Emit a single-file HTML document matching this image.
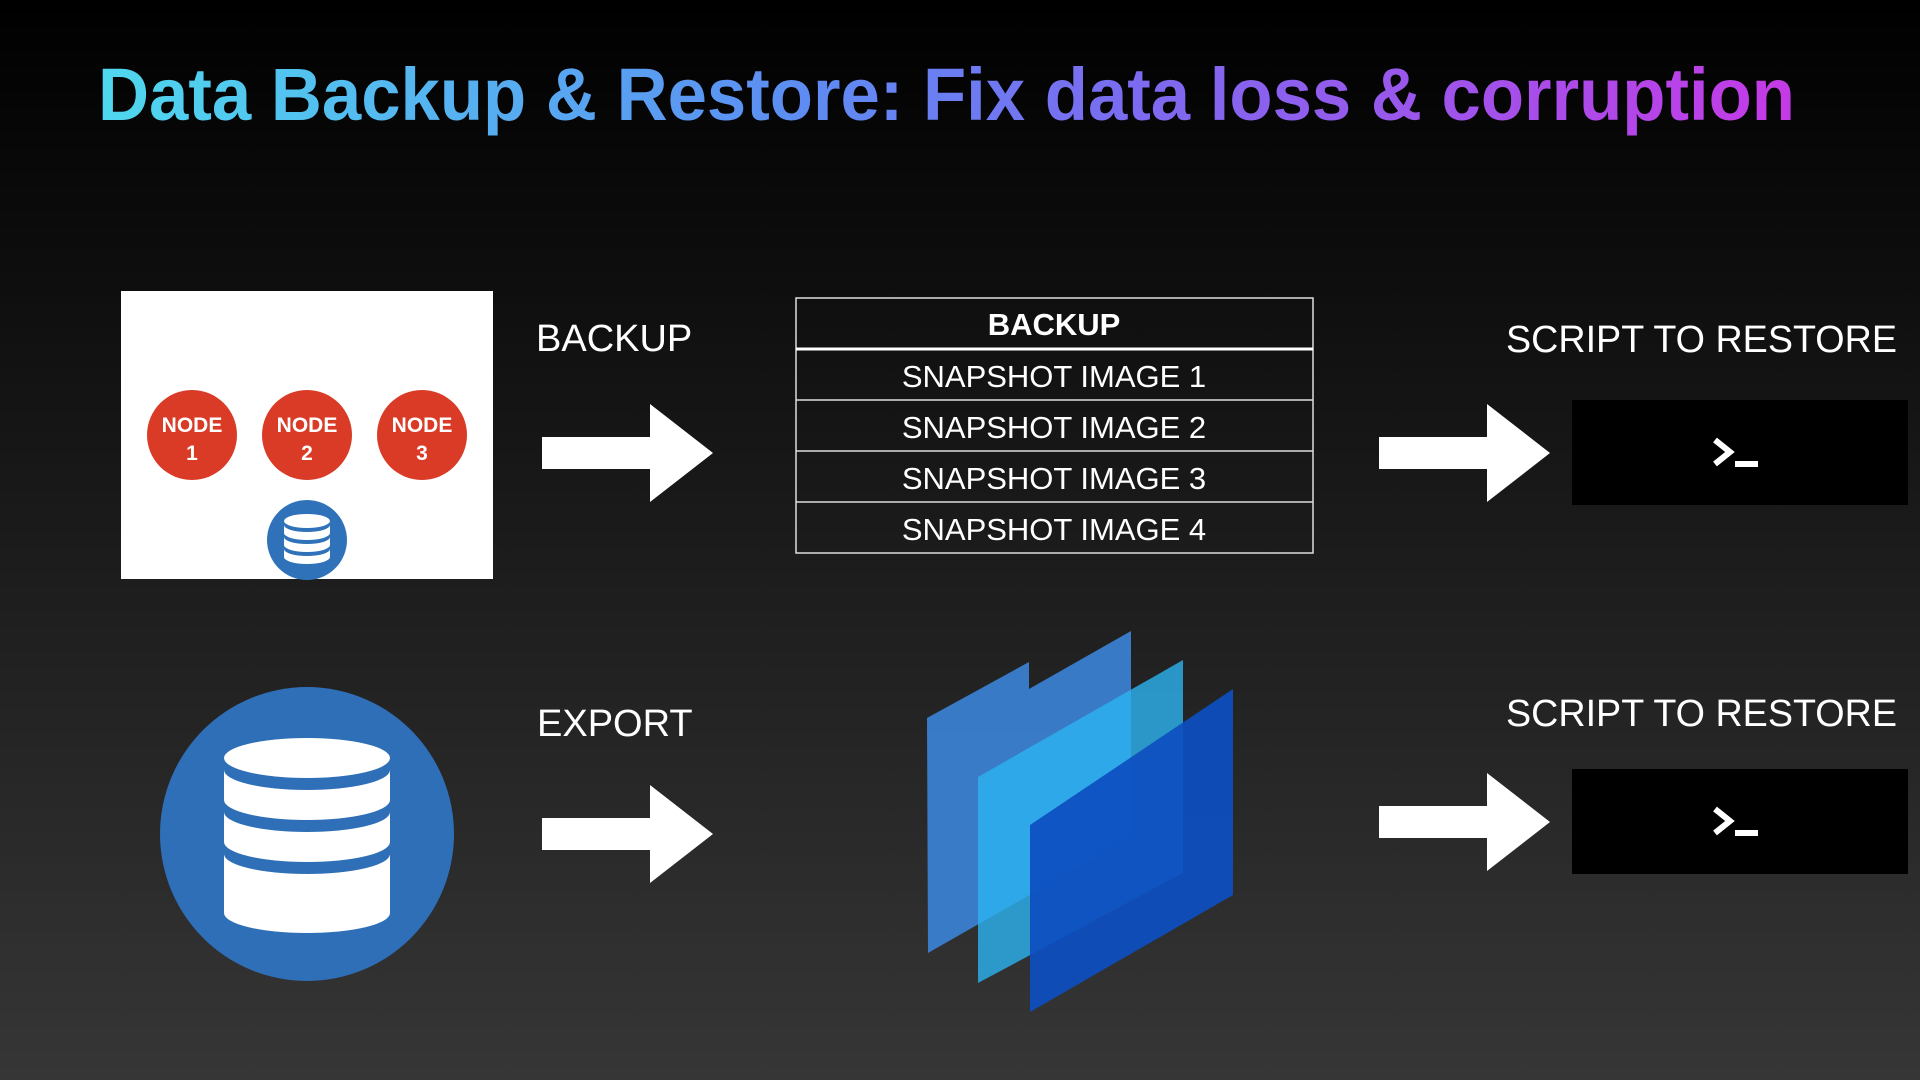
<!DOCTYPE html>
<html><head><meta charset="utf-8"><style>
html,body{margin:0;padding:0;width:1920px;height:1080px;overflow:hidden;background:#1a1a1a}
svg{display:block}
</style></head><body>
<svg width="1920" height="1080" viewBox="0 0 1920 1080" xmlns="http://www.w3.org/2000/svg">
<defs>
<linearGradient id="bg" x1="0" y1="0" x2="0" y2="1">
<stop offset="0" stop-color="#000"/><stop offset="1" stop-color="#363636"/></linearGradient>
<linearGradient id="tg" x1="0" y1="0" x2="1" y2="0">
<stop offset="0" stop-color="#4fd8ee"/><stop offset="0.4" stop-color="#5c8ff2"/><stop offset="0.6" stop-color="#7a6cf0"/><stop offset="1" stop-color="#c53ae6"/></linearGradient>
</defs>
<rect width="1920" height="1080" fill="url(#bg)"/>
<text x="98" y="120" font-family="Liberation Sans, sans-serif" font-weight="bold" font-size="74" fill="url(#tg)" textLength="1697" lengthAdjust="spacingAndGlyphs">Data Backup &amp; Restore: Fix data loss &amp; corruption</text>

<rect x="121" y="291" width="372" height="288" fill="#fff"/>
<g font-family="Liberation Sans, sans-serif" font-weight="bold" font-size="21" fill="#fff" text-anchor="middle">
<circle cx="192" cy="435" r="45" fill="#d93b27"/><text x="192" y="432">NODE</text><text x="192" y="460">1</text>
<circle cx="307" cy="435" r="45" fill="#d93b27"/><text x="307" y="432">NODE</text><text x="307" y="460">2</text>
<circle cx="422" cy="435" r="45" fill="#d93b27"/><text x="422" y="432">NODE</text><text x="422" y="460">3</text>
</g>
<circle cx="307" cy="540" r="40" fill="#2f72b9"/>
<g fill="#fff">
<ellipse cx="307" cy="521" rx="23" ry="7"/>
<path d="M284,525 A23,7 0 0 0 330,525 L330,533 A23,7 0 0 1 284,533Z"/>
<path d="M284,537 A23,7 0 0 0 330,537 L330,545 A23,7 0 0 1 284,545Z"/>
<path d="M284,549 A23,7 0 0 0 330,549 L330,557 A23,7 0 0 1 284,557Z"/>
</g>

<g fill="#fff">
<polygon points="542,437 650,437 650,404 713,453 650,502 650,469 542,469"/>
<polygon points="542,818 650,818 650,785 713,834 650,883 650,850 542,850"/>
<polygon points="1379,437 1487,437 1487,404 1550,453 1487,502 1487,469 1379,469"/>
<polygon points="1379,806 1487,806 1487,773 1550,822 1487,871 1487,838 1379,838"/>
</g>

<g font-family="Liberation Sans, sans-serif" font-size="38" fill="#fff">
<text x="536" y="351">BACKUP</text>
<text x="537" y="736">EXPORT</text>
<text x="1506" y="352" textLength="391" lengthAdjust="spacingAndGlyphs">SCRIPT TO RESTORE</text>
<text x="1506" y="726" textLength="391" lengthAdjust="spacingAndGlyphs">SCRIPT TO RESTORE</text>
</g>

<g fill="none" stroke="#ddd" stroke-width="1.5">
<rect x="796" y="298" width="517" height="255"/>
<line x1="796" y1="400" x2="1313" y2="400"/>
<line x1="796" y1="451" x2="1313" y2="451"/>
<line x1="796" y1="502" x2="1313" y2="502"/>
</g>
<line x1="796" y1="349" x2="1313" y2="349" stroke="#fff" stroke-width="3"/>
<g font-family="Liberation Sans, sans-serif" font-size="31" fill="#fff" text-anchor="middle">
<text x="1054" y="335" font-weight="bold">BACKUP</text>
<text x="1054" y="387">SNAPSHOT IMAGE 1</text>
<text x="1054" y="438">SNAPSHOT IMAGE 2</text>
<text x="1054" y="489">SNAPSHOT IMAGE 3</text>
<text x="1054" y="540">SNAPSHOT IMAGE 4</text>
</g>

<rect x="1572" y="400" width="336" height="105" fill="#000"/>
<rect x="1572" y="769" width="336" height="105" fill="#000"/>
<g stroke="#fff" stroke-width="6" fill="none">
<polyline points="1715,440 1730,452 1715,464"/><line x1="1735" y1="464" x2="1758" y2="464"/>
<polyline points="1715,809 1730,821 1715,833"/><line x1="1735" y1="833" x2="1758" y2="833"/>
</g>

<circle cx="307" cy="834" r="147" fill="#2f6fb7"/>
<g fill="#fff">
<ellipse cx="307" cy="758" rx="83" ry="20"/>
<path d="M224,770 A83,20 0 0 0 390,770 L390,800 A83,20 0 0 1 224,800Z"/>
<path d="M224,812 A83,20 0 0 0 390,812 L390,842 A83,20 0 0 1 224,842Z"/>
<path d="M224,854 A83,20 0 0 0 390,854 L390,913 A83,20 0 0 1 224,913Z"/>
</g>

<polygon points="927,718 1029,662 1029,689 1131,631 1131,837 928,953" fill="#3a7fd0" opacity="0.95"/>
<polygon points="978,777 1183,660 1183,873 978,983" fill="#2db4f2" opacity="0.8"/>
<polygon points="1030,825 1233,689 1233,895 1030,1012" fill="#0d4fbf" opacity="0.93"/>
</svg>
</body></html>
